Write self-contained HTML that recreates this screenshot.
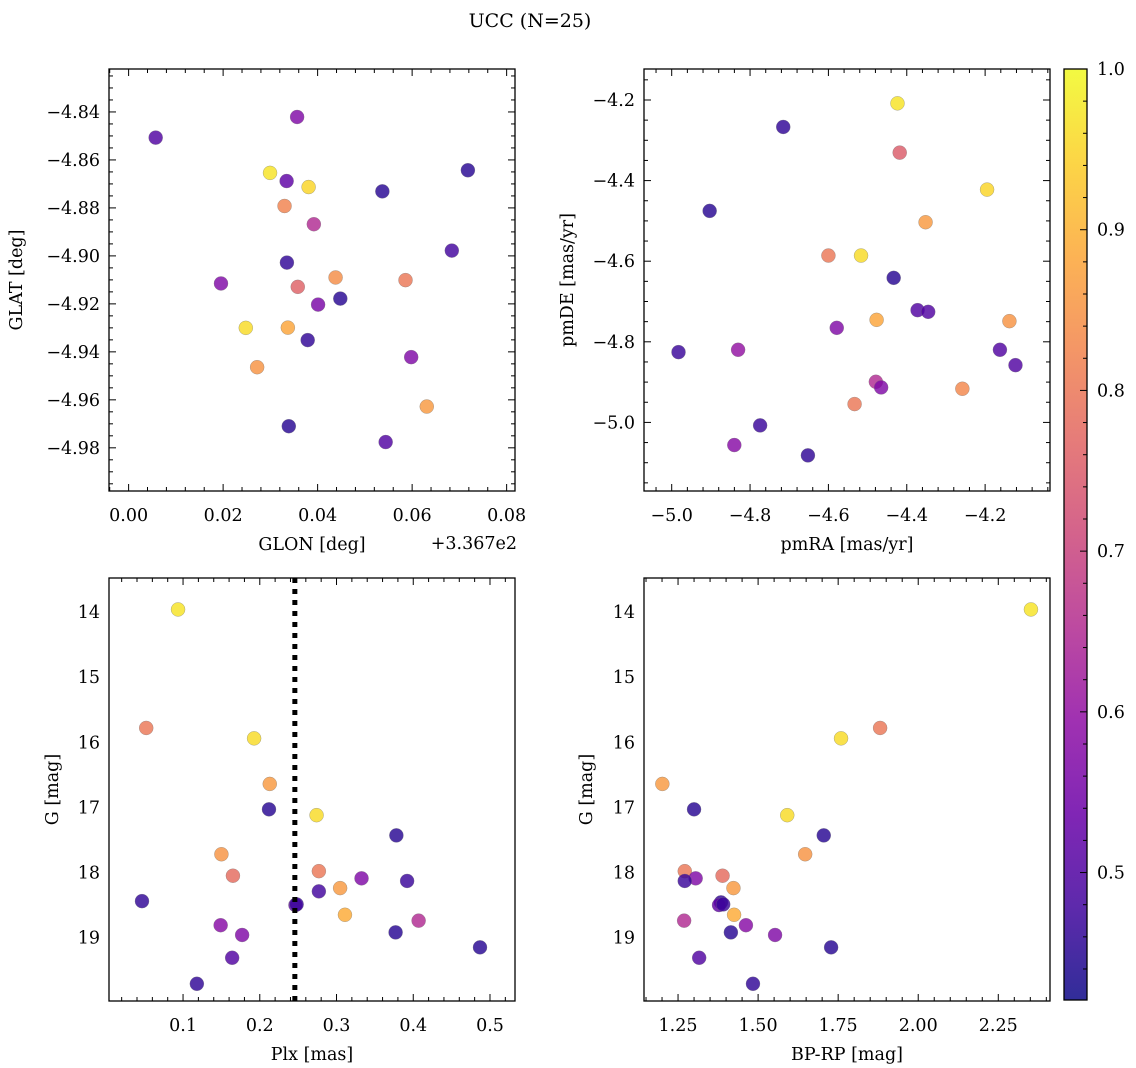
<!DOCTYPE html>
<html><head><meta charset="utf-8"><style>
html,body{margin:0;padding:0;background:#fff}
svg{display:block;font-family:"DejaVu Serif","Liberation Serif",serif}
</style></head><body>
<svg id="fig" width="1136" height="1068" viewBox="0 0 1136 1068" xmlns="http://www.w3.org/2000/svg">
<defs><linearGradient id="cbg" x1="0" y1="1" x2="0" y2="0"></linearGradient></defs>
<text x="530" y="27" text-anchor="middle" font-size="19">UCC (N=25)</text>
</svg>
<script>
// ---- data ----
const glon = [0.00573,0.03566,0.02993,0.03344,0.03809,0.0537,0.0718,0.0330,0.0392,0.0684,0.0335,0.01955,0.0438,0.0586,0.0358,0.0448,0.0401,0.0248,0.0337,0.0379,0.0598,0.0272,0.0631,0.0339,0.0544];
const glat = [-4.8507,-4.8421,-4.8654,-4.8688,-4.8713,-4.8731,-4.8643,-4.8792,-4.8868,-4.8978,-4.9028,-4.9115,-4.909,-4.9101,-4.9129,-4.9178,-4.9203,-4.930,-4.9299,-4.9351,-4.9422,-4.9464,-4.9628,-4.971,-4.9776];
const cPos = [0.50,0.57,0.97,0.52,0.95,0.45,0.45,0.82,0.65,0.48,0.46,0.57,0.84,0.80,0.76,0.45,0.56,0.96,0.88,0.46,0.57,0.85,0.86,0.45,0.50];
const pmra = [-4.4237,-4.7153,-4.418,-4.195,-4.9031,-4.352,-4.6,-4.5167,-4.4334,-4.3724,-4.3453,-4.477,-4.138,-4.5787,-4.9826,-4.8305,-4.1622,-4.1225,-4.4789,-4.4654,-4.2581,-4.5332,-4.7743,-4.8402,-4.6523];
const pmde = [-4.2083,-4.2669,-4.3306,-4.4223,-4.4752,-4.5033,-4.586,-4.586,-4.6413,-4.7215,-4.7256,-4.7455,-4.7488,-4.7653,-4.8256,-4.8198,-4.8198,-4.8579,-4.8992,-4.9132,-4.9165,-4.9545,-5.0074,-5.0562,-5.0818];
const cPm = [0.97,0.46,0.75,0.95,0.45,0.86,0.80,0.96,0.45,0.50,0.50,0.88,0.85,0.57,0.47,0.60,0.50,0.50,0.65,0.57,0.83,0.80,0.47,0.58,0.46];
const plx = [0.0935,0.052,0.1926,0.213,0.212,0.274,0.378,0.150,0.165,0.277,0.3326,0.392,0.277,0.3047,0.0465,0.2465,0.311,0.407,0.149,0.177,0.377,0.487,0.164,0.118,0.248];
const gmag = [13.96,15.78,15.94,16.64,17.03,17.12,17.43,17.72,18.05,17.98,18.09,18.13,18.29,18.24,18.44,18.50,18.65,18.74,18.81,18.96,18.92,19.15,19.31,19.71,18.49];
const cCmd = [0.97,0.80,0.96,0.86,0.45,0.96,0.45,0.85,0.78,0.80,0.57,0.47,0.48,0.86,0.46,0.52,0.89,0.65,0.58,0.57,0.45,0.45,0.50,0.46,0.47];
const bprp = [2.352,1.881,1.759,1.201,1.300,1.591,1.705,1.647,1.389,1.271,1.305,1.271,1.423,1.384,1.378,1.391,1.425,1.269,1.462,1.553,1.415,1.728,1.316,1.484];
const gmagC = [13.96,15.78,15.94,16.64,17.03,17.12,17.43,17.72,18.05,17.98,18.09,18.13,18.24,18.46,18.50,18.49,18.65,18.74,18.81,18.96,18.92,19.15,19.31,19.71];
const cColor = [0.97,0.80,0.96,0.86,0.45,0.96,0.45,0.85,0.78,0.80,0.57,0.47,0.86,0.46,0.52,0.47,0.89,0.65,0.58,0.57,0.45,0.45,0.50,0.46];
const plxLine = [0.2457];
const cbTicks = [0.5,0.6,0.7,0.8,0.9,1.0];
const cRange = [0.4207,1.0];

const NS="http://www.w3.org/2000/svg";
const svg=document.getElementById('fig');
function mk(tag,attrs,parent){const e=document.createElementNS(NS,tag);for(const k in attrs)e.setAttribute(k,attrs[k]);(parent||svg).appendChild(e);return e;}
const plasma=[[13,8,135],[65,4,157],[106,0,168],[143,13,164],[177,42,144],[204,71,120],[225,100,98],[242,132,75],[252,166,54],[252,206,37],[240,249,33]];
function cmap(v){let t=(v-cRange[0])/(cRange[1]-cRange[0]);t=Math.max(0,Math.min(1,t))*10;const i=Math.min(9,Math.floor(t)),f=t-i;const a=plasma[i],b=plasma[i+1];return 'rgb('+a.map((x,k)=>Math.round(x+(b[k]-x)*f)).join(',')+')';}
function fmt(v,d){const s=v.toFixed(d);return s.replace('-','\u2212');}
const FS=17.5;

function panel(o){
  const g=mk('g',{});
  
  
  const sx=v=>o.L+(v-o.x0)/(o.x1-o.x0)*(o.R-o.L);
  const sy=v=>o.B-(v-o.y0)/(o.y1-o.y0)*(o.B-o.T);
  const pg=mk('g',{},g);
  
  
  for(let i=0;i<o.xs.length;i++){
    const c=mk('circle',{cx:sx(o.xs[i]),cy:sy(o.ys[i]),r:7,fill:cmap(o.cs[i]),'fill-opacity':0.82,stroke:'#777','stroke-opacity':0.6,'stroke-width':0.5},pg);
    
    
  }
  if(o.vline){for(const v of o.vline){const l=mk('line',{x1:sx(v),x2:sx(v),y1:o.T,y2:o.B,stroke:'#000','stroke-width':5,'stroke-dasharray':'5 6'},g);
    
    }}
  const f=mk('rect',{x:o.L,y:o.T,width:o.R-o.L,height:o.B-o.T,fill:'none',stroke:'#000','stroke-width':1.3},g);
  
  
  const tg=mk('g',{stroke:'#000','stroke-width':1},g);
  
  
  const eps=1e-9;
  for(let v=Math.ceil(o.x0/o.xmin-eps)*o.xmin;v<=o.x1+eps;v+=o.xmin){
    const x=sx(v);const maj=Math.abs(v/o.xmaj-Math.round(v/o.xmaj))<1e-6;const len=maj?7:4;
    mk('line',{x1:x,x2:x,y1:o.B,y2:o.B-len},tg);mk('line',{x1:x,x2:x,y1:o.T,y2:o.T+len},tg);
  }
  for(let v=Math.ceil(o.y0/o.ymin-eps)*o.ymin;v<=o.y1+eps;v+=o.ymin){
    const y=sy(v);const maj=Math.abs(v/o.ymaj-Math.round(v/o.ymaj))<1e-6;const len=maj?7:4;
    mk('line',{x1:o.L,x2:o.L+len,y1:y,y2:y},tg);mk('line',{x1:o.R,x2:o.R-len,y1:y,y2:y},tg);
  }
  for(const v of o.xt){const t=mk('text',{x:sx(v),y:o.B+30,'text-anchor':'middle','font-size':FS},g);t.textContent=fmt(v,o.xd);
    
    }
  for(const v of o.yt){const t=mk('text',{x:o.L-9,y:sy(v)+6,'text-anchor':'end','font-size':FS},g);t.textContent=fmt(v,o.yd);
    
    }
  const xl=mk('text',{x:(o.L+o.R)/2,y:o.B+59,'text-anchor':'middle','font-size':FS},g);xl.textContent=o.xlabel;
  
  
  const yl=mk('text',{x:o.ylx,y:(o.T+o.B)/2,'text-anchor':'middle','font-size':FS,transform:'rotate(-90 '+o.ylx+' '+(o.T+o.B)/2+')'},g);yl.textContent=o.ylabel;
  
  
  if(o.offset){const t=mk('text',{x:o.R+2,y:o.B+58,'text-anchor':'end','font-size':FS},g);t.textContent=o.offset;
    
    }
}
panel({name:'galactic-coords-panel',L:109,R:515,T:69,B:491,x0:-0.00415,x1:0.08177,y0:-4.998,y1:-4.8221,xs:glon,ys:glat,cs:cPos,
  xmaj:0.02,xmin:0.004,ymaj:0.02,ymin:0.005,xt:[0,0.02,0.04,0.06,0.08],xd:2,yt:[-4.98,-4.96,-4.94,-4.92,-4.90,-4.88,-4.86,-4.84],yd:2,
  xlabel:'GLON [deg]',ylabel:'GLAT [deg]',ylx:22,offset:'+3.367e2'});
panel({name:'proper-motion-panel',L:644,R:1050,T:69,B:491,x0:-5.0707,x1:-4.0344,y0:-5.1702,y1:-4.1231,xs:pmra,ys:pmde,cs:cPm,
  xmaj:0.2,xmin:0.04,ymaj:0.2,ymin:0.05,xt:[-5.0,-4.8,-4.6,-4.4,-4.2],xd:1,yt:[-5.0,-4.8,-4.6,-4.4,-4.2],yd:1,
  xlabel:'pmRA [mas/yr]',ylabel:'pmDE [mas/yr]',ylx:573});
panel({name:'parallax-magnitude-panel',L:109,R:515,T:578,B:1001,x0:0.0035,x1:0.5326,y0:19.974,y1:13.477,xs:plx,ys:gmag,cs:cCmd,vline:plxLine,
  xmaj:0.1,xmin:0.02,ymaj:1,ymin:0.2,xt:[0.1,0.2,0.3,0.4,0.5],xd:1,yt:[14,15,16,17,18,19],yd:0,
  xlabel:'Plx [mas]',ylabel:'G [mag]',ylx:58});
panel({name:'color-magnitude-panel',L:644,R:1050,T:578,B:1001,x0:1.1437,x1:2.4115,y0:19.974,y1:13.477,xs:bprp,ys:gmagC,cs:cColor,
  xmaj:0.25,xmin:0.05,ymaj:1,ymin:0.2,xt:[1.25,1.5,1.75,2.0,2.25],xd:2,yt:[14,15,16,17,18,19],yd:0,
  xlabel:'BP-RP [mag]',ylabel:'G [mag]',ylx:592});

const grad=document.getElementById('cbg');
for(let i=0;i<=10;i++){mk('stop',{offset:i/10,'stop-color':'rgb('+plasma[i].join(',')+')','stop-opacity':0.85},grad);}
const cb=mk('g',{});


const cT=69,cB=1000,cL=1064,cR=1087;
const cy=v=>cB-(v-cRange[0])/(cRange[1]-cRange[0])*(cB-cT);
mk('rect',{x:cL,y:cT,width:cR-cL,height:cB-cT,fill:'url(#cbg)',stroke:'#000','stroke-width':1.3},cb);
for(let v=0.44;v<=1.0001;v+=0.02){const y=cy(v);const maj=Math.abs(v*10-Math.round(v*10))<1e-6;
  mk('line',{x1:cR,x2:cR-(maj?7:4),y1:y,y2:y,stroke:'#000','stroke-width':1},cb);}
for(const v of cbTicks){const t=mk('text',{x:1097,y:cy(v)+6,'font-size':FS},cb);t.textContent=v.toFixed(1);
  
  }
</script>
</body></html>
